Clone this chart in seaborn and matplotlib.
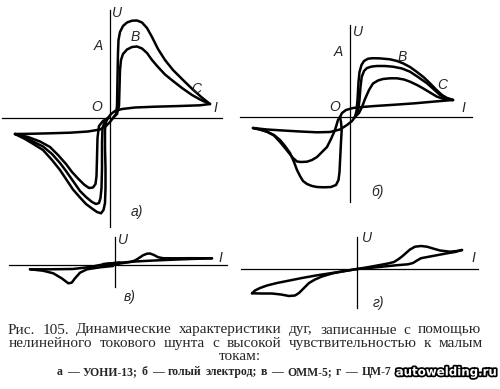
import pandas as pd
import matplotlib.pyplot as plt
import matplotlib.patheffects as pe
import seaborn as sns

# Dynamic arc characteristics, U vs I (origin-relative units)

# panel a) UONI-13
a_rise_outer = [(3, 0), (6, 4), (7, 12), (7.5, 40), (8, 65), (8.5, 78), (10, 86), (13, 92), (17, 95.5),
                (22, 97.3), (27, 97.5), (32, 95.5), (37, 90), (42, 81), (48, 69), (55, 58), (63, 48),
                (73, 38), (83, 28.3), (92, 20.4), (100, 14)]
a_rise_inner = [(3, 0), (7, 4), (9, 12), (9.5, 30), (10, 48), (11, 58), (13, 64), (17, 68.5), (22, 71),
                (27, 71.5), (32, 69.5), (37, 65), (42, 58), (48, 51), (55, 43.5), (63, 37), (72, 30),
                (82, 23), (91, 18), (100, 14)]
a_ret_right = [(100, 14), (90, 12.7), (70, 12), (45, 11.3), (25, 10.5), (12, 9), (5, 7), (1, 4), (-2, 0)]
a_fall_outer = [(-2, 0), (-4, -4), (-5, -12), (-5, -30), (-4.5, -50), (-4.5, -70), (-5, -85), (-6.5, -92),
                (-9, -95.3), (-13, -94), (-18, -90.5), (-24, -86), (-30, -79.5), (-37, -71.5), (-44, -61),
                (-50, -52), (-58, -42), (-67, -32), (-76, -26.4), (-85, -21), (-95, -16)]
a_fall_mid = [(-2, 0), (-5, -3), (-7.5, -10), (-8, -25), (-8, -50), (-8.5, -70), (-9.5, -80), (-11, -85),
              (-14, -86), (-18, -84), (-24, -79), (-30, -73), (-37, -63), (-44, -53), (-50, -45),
              (-58, -36), (-67, -28.5), (-76, -24), (-85, -19.5), (-95, -16)]
a_fall_inner = [(-2, 0), (-7, -3), (-11, -8), (-12.5, -20), (-13, -40), (-13.5, -58), (-14.5, -66),
                (-17, -69.5), (-21, -70), (-26, -66.5), (-32, -60.5), (-38, -54), (-44, -46), (-52, -37),
                (-60, -29), (-70, -23.5), (-82, -19), (-95, -16)]
a_ret_left = [(-95, -16), (-80, -15.8), (-60, -15.3), (-40, -14.7), (-22, -13.5), (-10, -11.5), (-4, -8),
              (0, -4), (3, 0)]

# panel б) bare electrode
b_rise_outer = [(5, 0), (6.5, 6), (7.5, 17), (8.5, 35), (9.5, 45), (11.5, 52), (14, 56), (18, 58.3),
                (23, 58.8), (30, 58.6), (40, 57.7), (47, 56), (53, 53.7), (60, 50), (67, 45), (74, 39.5),
                (80, 33.7), (86, 27.5), (92, 22), (97, 19), (103, 17)]
b_rise_mid = [(5, 0), (8, 6), (9.5, 17), (10.5, 30), (11.7, 40), (14, 46), (17, 49), (22, 50.5), (27, 51),
              (35, 51), (43, 50.3), (52, 48.5), (60, 45.3), (68, 40), (77, 33.7), (84, 27.5), (90, 22),
              (96, 19), (103, 17)]
b_rise_inner = [(5, 0), (9, 4), (12, 10), (15, 18), (19, 27), (23, 33.5), (28, 36.5), (33, 38), (40, 38.7),
                (47, 38.7), (54, 37.5), (60, 35.3), (67, 32), (73, 28.7), (80, 24.5), (87, 20.3), (94, 18),
                (103, 17)]
b_ret_right = [(103, 17), (85, 15.5), (65, 13.7), (45, 12.3), (25, 11), (12, 10), (3, 9), (-4, 7), (-8, 4),
               (-10, 0)]
b_fall_outer = [(-10, 0), (-9, -5), (-8.3, -13), (-9, -25), (-9.5, -35), (-10.5, -55), (-11.5, -63),
                (-14, -68), (-19, -70), (-26, -70.3), (-33, -70), (-38, -69), (-43, -67), (-47, -64),
                (-50, -59), (-53, -53), (-56, -45), (-60, -36), (-65, -29), (-70, -23), (-76, -18),
                (-83, -14.7), (-90, -12.5), (-97, -11)]
b_fall_inner = [(-10, 0), (-12, -3), (-15, -13), (-19, -22), (-23, -30), (-28, -35), (-33, -40), (-38, -43),
                (-43, -44.7), (-49, -45), (-53, -44.5), (-57, -41), (-61, -36), (-65, -31), (-70, -25),
                (-76, -18.5), (-83, -14.7), (-90, -12.5), (-97, -11)]
b_ret_left = [(-97, -11), (-83, -12.5), (-67, -13.5), (-50, -14.5), (-33, -15.3), (-20, -15), (-10, -12.5),
              (-3, -8), (2, -4), (5, 0)]

# panel в) OMM-5
v_right_up = [(-5, -0.5), (5, 1.5), (15, 3), (20, 4.5), (24, 7), (28, 9.7), (32, 11.3), (35, 11.5),
              (39, 10), (43, 7.8), (48, 6.8), (60, 6.7), (75, 6.8), (97, 6.7)]
v_right_ret = [(97, 6.7), (75, 6), (55, 5.2), (35, 4.3), (20, 3.5), (8, 2.5), (0, 2), (-12, 1)]
v_left_dip = [(-2, -1), (-15, -2.3), (-28, -4.3), (-35, -7.7), (-40, -13.3), (-43.3, -17.7), (-46.7, -18.3),
              (-53, -13.5), (-61.7, -8.3), (-72, -5.7), (-85, -4.3)]
v_left_ret = [(-85, -4.3), (-65, -4.3), (-42, -4), (-25, -2), (-15, 0), (-5, 1.5), (5, 2.5)]

# panel г) TsM-7
g_right_up = [(0, 0), (12, 2), (23, 4), (31, 5.5), (37, 7), (41, 9.5), (45, 12.5), (49, 16), (53, 19.5),
              (58, 22.3), (64, 23), (70, 22.3), (76, 20.5), (83, 18.5), (93, 17.3), (100, 18), (105, 19)]
g_right_low = [(105, 19), (98, 17), (90, 15.7), (80, 13.8), (72, 12.3), (64, 10.8), (60, 8.5), (56, 6),
               (51, 4.7), (40, 3.8), (25, 2.3), (12, 1), (0, 0)]
g_left_low = [(0, 0), (-15, -2.5), (-25, -4.5), (-35, -7.5), (-42, -10.5), (-48, -14), (-53, -19),
              (-58, -24), (-62, -26.5), (-68, -27), (-76, -25.5), (-85, -24.5), (-95, -24.5), (-105, -24.3)]
g_left_up = [(-105, -24.3), (-102, -21.5), (-97, -19), (-90, -16.5), (-80, -14), (-70, -12), (-55, -9),
             (-40, -6.3), (-25, -4), (-12, -2), (0, 0)]

caption_1 = "Рис. 105. Динамические характеристики дуг, записанные с помощью"
caption_2 = "нелинейного токового шунта с высокой чувствительностью к малым"
caption_3 = "токам:"
legend_line = "а — УОНИ-13; б — голый электрод; в — ОММ-5; г — ЦМ-7"

W, H = 500, 389
sns.set_style("white")
plt.rcParams['font.family'] = ['Liberation Serif', 'DejaVu Serif']
fig = plt.figure(figsize=(5, 3.89), dpi=100)
renderer = fig.canvas.get_renderer()


def to_frame(branches):
    rows = []
    for name, pts in branches.items():
        for k, (i, u) in enumerate(pts):
            rows.append({'I': i, 'U': u, 'branch': name, 'k': k})
    return pd.DataFrame(rows)


def panel(box, origin, haxis, vaxis, branches):
    # box and axes extents given in pixels of the page, origin is where the axes cross
    x0, x1, y0, y1 = box
    ox, oy = origin
    ax = fig.add_axes([x0 / W, 1 - y1 / H, (x1 - x0) / W, (y1 - y0) / H])
    df = to_frame(branches)
    sns.lineplot(data=df, x='I', y='U', units='branch', estimator=None, sort=False,
                 color='black', lw=1.8, ax=ax, legend=False)
    ax.set_xlim(x0 - ox, x1 - ox)
    ax.set_ylim(oy - y1, oy - y0)
    for s in ['top', 'right']:
        ax.spines[s].set_visible(False)
    ax.spines['left'].set_position(('data', 0))
    ax.spines['bottom'].set_position(('data', 0))
    ax.spines['bottom'].set_bounds(haxis[0] - ox, haxis[1] - ox)
    ax.spines['left'].set_bounds(oy - vaxis[1], oy - vaxis[0])
    for s in ['left', 'bottom']:
        ax.spines[s].set_linewidth(0.9)
        ax.spines[s].set_color('black')
    ax.set_xticks([])
    ax.set_yticks([])
    ax.set_xlabel('')
    ax.set_ylabel('')
    ax.patch.set_alpha(0)
    return ax


panel((0, 232, 5, 232), (110, 118), (2, 222), (10, 227),
      {'ro': a_rise_outer, 'ri': a_rise_inner, 'rr': a_ret_right, 'fo': a_fall_outer,
       'fm': a_fall_mid, 'fi': a_fall_inner, 'rl': a_ret_left})
panel((236, 484, 20, 210), (350, 117), (240, 472), (25, 202),
      {'ro': b_rise_outer, 'rm': b_rise_mid, 'ri': b_rise_inner, 'rr': b_ret_right,
       'fo': b_fall_outer, 'fi': b_fall_inner, 'rl': b_ret_left})
panel((4, 236, 234, 292), (115, 265), (9, 227), (237, 287),
      {'ru': v_right_up, 'rr': v_right_ret, 'ld': v_left_dip, 'lr': v_left_ret})
panel((236, 486, 232, 312), (357, 269), (241, 478), (237, 308),
      {'ru': g_right_up, 'rl': g_right_low, 'll': g_left_low, 'lu': g_left_up})


def label(x, y, s, size=10):
    fig.text(x / W, 1 - y / H, s, ha='center', va='center', fontsize=size,
             style='italic', family=['Liberation Sans', 'DejaVu Sans'])


for x, y, s in [(117, 13, 'U'), (98, 46, 'A'), (135, 37, 'B'), (196, 89, 'C'), (97, 107, 'O'),
                (215, 108, 'I'), (137, 212, 'а)'),
                (358, 32, 'U'), (338, 52, 'A'), (402, 57, 'B'), (442, 85, 'C'), (335, 107, 'O'),
                (463, 108, 'I'), (377, 192, 'б)'),
                (123, 240, 'U'), (220, 258, 'I'), (130, 297, 'в)'),
                (367, 238, 'U'), (473, 258, 'I'), (378, 303, 'г)')]:
    label(x, y, s)


def word_widths(line, size, **kw):
    probe = [fig.text(0, 0, w, fontsize=size, **kw) for w in line.split()]
    widths = [t.get_window_extent(renderer).width for t in probe]
    for t in probe:
        t.remove()
    return widths


def fit_size(line, x_left, x_right, gap, **kw):
    # font size whose words fill the line with the given word gap
    n = len(line.split())
    total = sum(word_widths(line, 10, **kw))
    return 10 * (x_right - x_left - gap * (n - 1)) / total


def justified(line, x_left, x_right, y, size, **kw):
    # typeset line word by word so it fills x_left..x_right like the book page
    words = line.split()
    widths = word_widths(line, size, **kw)
    gap = (x_right - x_left - sum(widths)) / (len(words) - 1)
    x = x_left
    for w, wd in zip(words, widths):
        fig.text(x / W, 1 - y / H, w, ha='left', va='center', fontsize=size, **kw)
        x += wd + gap


cap_size = fit_size(caption_1, 8, 481, 7.5)
justified(caption_1, 8, 481, 330, cap_size)
justified(caption_2, 9, 483, 343.5, cap_size)
fig.text(240 / W, 1 - 357 / H, caption_3, ha='center', va='center', fontsize=cap_size)
leg_size = fit_size(legend_line, 57, 391, 4, weight='bold')
justified(legend_line, 57, 391, 372, leg_size, weight='bold')

fig.text(446 / W, 1 - 372 / H, 'autowelding.ru', ha='center', va='center', fontsize=8.5,
         weight='bold', color='white', family='DejaVu Sans',
         path_effects=[pe.withStroke(linewidth=2.5, foreground='black')])

fig.savefig('out.png', dpi=100, facecolor='white')
